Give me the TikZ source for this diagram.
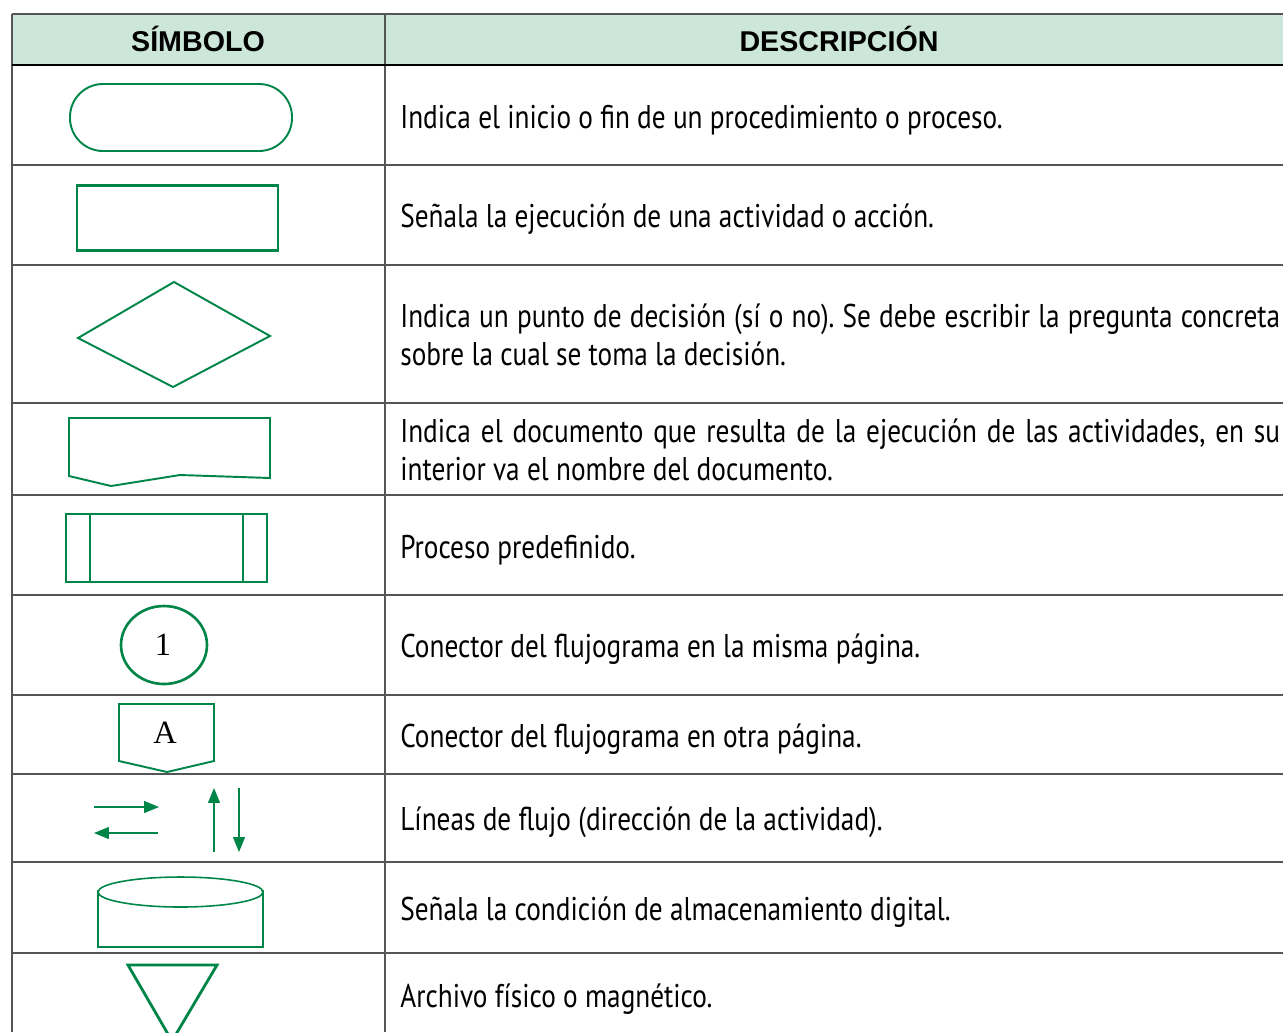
\documentclass[tikz,border=0pt]{standalone}
\usepackage{fontspec}
\setmainfont{PT Sans}[FakeStretch=0.83]
\newfontfamily\headfont{Liberation Sans}
\newfontfamily\symfont{Liberation Serif}
\usetikzlibrary{arrows.meta,positioning}
\frenchspacing
\definecolor{fggreen}{RGB}{0,133,72}
\definecolor{fgmint}{RGB}{204,230,218}
\definecolor{fggrid}{RGB}{85,85,85}
\tikzstyle{gridline} = [line width=1.1pt, color=fggrid]
\tikzstyle{symbol} = [line width=1.1pt, color=fggreen]
\tikzstyle{flow} = [line width=0.8pt, color=fggreen, -{Triangle[length=8.5pt,width=6.8pt]}]
\tikzstyle{head} = [font=\headfont\bfseries\fontsize{16.3}{18}\selectfont]
\tikzstyle{desc} = [anchor=west, inner sep=0pt, align=left, font=\fontsize{18.7}{21.6}\selectfont]
\tikzstyle{sym} = [inner sep=0pt, font=\symfont\fontsize{18.5}{20}\selectfont]

\begin{document}
\begin{tikzpicture}[x=0.02cm, y=-0.02cm]
\useasboundingbox (0,0) rectangle (1283,1032);
\clip (0,0) rectangle (1283,1032);

% Header
\fill[fgmint] (12,14) rectangle (1283,65);
\node[head] (hsym) at (198,39) {SÍMBOLO};
\node[head] (hdesc) at (839,39) {DESCRIPCIÓN};

% Grid
\foreach \y in {14,165,265,403,495,595,695,774,862,953}
  \draw[gridline] (12,\y) -- (1283,\y);
\draw[gridline] (12,14) -- (12,1032);
\draw[gridline] (385,14) -- (385,1032);
\draw[line width=1.7pt] (12,65) -- (1283,65);

% Symbols
\draw[symbol, rounded corners=0.66cm] (70,84) rectangle (292,151);
\draw[symbol, line width=1.7pt] (77,185) rectangle (278,250);
\draw[symbol] (174,282) -- (270,336) -- (173,387) -- (78,338) -- cycle;
\draw[symbol] (69,418) -- (270,418) -- (270,478) -- (180,475) -- (111,486) -- (69,476) -- cycle;
\draw[symbol, line width=1.6pt] (66,514) rectangle (267,582)
  (90,514) -- (90,582) (243,514) -- (243,582);
\draw[symbol, line width=1.5pt] (164,645) ellipse [x radius=0.86cm, y radius=0.78cm];
\node[sym] (con1) at (163,645) {1};
\draw[symbol] (119,704) -- (214,704) -- (214,761) -- (167,772) -- (119,761) -- cycle;
\node[sym] (conA) at (165,733) {A};

% Flow lines
\coordinate (r0) at (94,807);  \coordinate (r1) at (159,807);
\coordinate (l0) at (158,833); \coordinate (l1) at (94,833);
\coordinate (u0) at (214,852); \coordinate (u1) at (214,788);
\coordinate (w0) at (239,788); \coordinate (w1) at (239,852);
\draw[flow] (r0) -- (r1);
\draw[flow] (l0) -- (l1);
\draw[flow] (u0) -- (u1);
\draw[flow] (w0) -- (w1);

% Storage
\draw[symbol, line width=0.9pt] (98,890) -- (98,947) -- (263,947) -- (263,890);
\draw[symbol, line width=0.9pt] (180.5,892) ellipse [x radius=1.65cm, y radius=0.3cm];
\draw[symbol, line width=1.6pt] (128,965) -- (217,965) -- (172,1041) -- cycle;

% Descriptions
\node[desc] (d1) at (400,120) {Indica el inicio o fin de un procedimiento o proceso.};
\node[desc] (d2) at (400,219) {Señala la ejecución de una actividad o acción.};
\node[desc] (d3) at (400,335) {\makebox[17.6cm][s]{Indica un punto de decisión (sí o no). Se debe escribir la pregunta concreta}\\sobre la cual se toma la decisión.};
\node[desc] (d4) at (400,450) {\makebox[17.6cm][s]{Indica el documento que resulta de la ejecución de las actividades, en su}\\interior va el nombre del documento.};
\node[desc] (d5) at (400,550) {Proceso predefinido.};
\node[desc] (d6) at (400,649) {Conector del flujograma en la misma página.};
\node[desc] (d7) at (400,739) {Conector del flujograma en otra página.};
\node[desc] (d8) at (400,822) {Líneas de flujo (dirección de la actividad).};
\node[desc] (d9) at (400,912) {Señala la condición de almacenamiento digital.};
\node[desc] (d10) at (400,999) {Archivo físico o magnético.};
\end{tikzpicture}
\end{document}
